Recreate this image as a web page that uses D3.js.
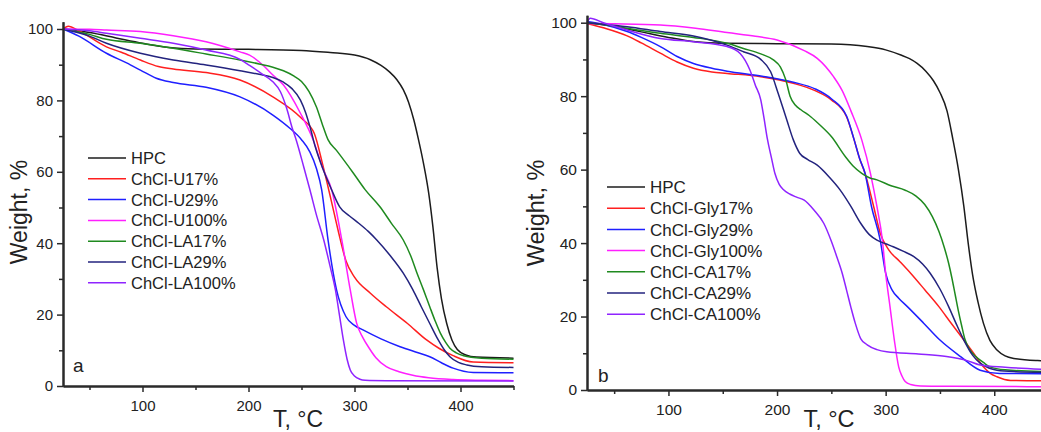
<!DOCTYPE html>
<html>
<head>
<meta charset="utf-8">
<script src="https://cdn.jsdelivr.net/npm/d3@7"></script>
<style>
  html, body { margin: 0; padding: 0; background: #fff; }
  svg { display: block; font-family: Arial, "Liberation Sans", sans-serif; }
</style>
</head>
<body>
<svg id="chart" width="1041" height="432"></svg>
<script>
// ---- Data: TGA curves, [T in °C, weight %] ----

// panel a
const hpcA    = [[25,100],[50,99],[75,97.5],[100,96],[125,94.8],[150,94.4],[200,94.3],[250,94.0],[277,93.4],[300,92.7],[315,91.4],[325,89.8],[333,88],[340,85.8],[346,83],[351,79.5],[356,74.5],[360,69.5],[365,62.5],[370,54],[374,44.5],[378,33],[382,24.5],[387,17.5],[392,12.8],[397,10.2],[405,8.7],[415,8.1],[450,7.8]];
const u17A    = [[25,100],[30,100.8],[40,99.5],[66,95],[80,93.5],[98,91.3],[115,89.5],[129,88.8],[160,87.8],[192,85.7],[223,81],[250,75],[262,70.8],[270,62],[278,52],[285,43],[292,35],[300,30.5],[315,26],[330,22.2],[350,17.5],[368,12.9],[380,10.5],[393,8.5],[412,6.7],[450,6.5]];
const u29A    = [[25,100],[40,98],[66,93.2],[85,90.5],[98,88.5],[113,86.2],[129,85],[160,83.7],[192,81],[223,75.9],[239,72.2],[250,69],[258,65.5],[264,61],[269,55],[275,41],[283,27],[292,19.4],[300,17],[308,15.7],[325,13.2],[343,11],[360,9.3],[371,8.2],[382,6.5],[393,5],[412,3.8],[450,3.7]];
const u100A   = [[25,100],[50,99.9],[66,99.7],[98,99.3],[129,98.1],[160,96.4],[192,93.6],[201,92.7],[215,89.5],[223,87.1],[233,84.3],[249,76.4],[261,68.9],[270,61],[278.5,54.9],[288,40.9],[296,26.9],[302,17.6],[308,13.5],[313,11],[320,8],[330,5.4],[342,4],[355,3],[370,2.3],[393,1.8],[420,1.6],[450,1.5]];
const la17A   = [[25,100],[50,98.5],[66,97.1],[98,96],[129,94.6],[160,93],[192,91.3],[210,90.2],[223,89.3],[233,88.3],[243,86.8],[250,85.3],[257,82.5],[264,78.2],[270,73],[275,69],[283,66],[299,59.6],[310,55],[324,50.2],[335,45.5],[346,40.9],[353,36.5],[359,31.6],[365,27],[371,22.2],[376,18.3],[381,14.8],[386,12.2],[390,10.6],[396,9.3],[403,8.5],[420,7.8],[450,7.5]];
const la29A   = [[25,100],[50,98],[66,96],[98,93.2],[129,91.3],[160,89.9],[192,88.3],[210,87.3],[223,86.4],[233,85.1],[241,83.3],[249,80.1],[254,76.5],[258,72.6],[263,67],[270,61],[278.5,54.9],[286,50.2],[295,47.7],[304,45.6],[313,43.3],[321,40.9],[334,36.4],[346,31.6],[355,27],[363,22.2],[371,17.5],[379,12.9],[385,10],[390,8.2],[398,6.6],[406,5.9],[420,5.4],[450,5.2]];
const la100A  = [[25,100],[50,99.5],[66,98.8],[98,97.4],[129,96],[160,94.1],[192,91.5],[201,89.8],[212,87.6],[223,85.2],[230,82.5],[236,77.8],[241,72.5],[245,68.9],[252,61.5],[258,54.9],[264,48],[271,40.9],[277,33.5],[282,26.9],[286,19.5],[289.5,12.9],[293,7.5],[296,4.5],[300,2.8],[305,1.9],[310,1.6],[330,1.5],[450,1.4]];

// panel b
const hpcB    = [[25,100],[50,99],[75,97.5],[100,96],[125,94.8],[150,94.4],[200,94.3],[250,94.2],[283,93.5],[300,92.6],[314,91.2],[322,90.2],[329,88.9],[337,86.8],[344,84.2],[350,81],[356.5,76],[362,68.1],[367,60],[372,50],[376,40],[380,31.5],[385,24],[390,18.2],[396,13.5],[402.5,10.9],[410,9.3],[418,8.6],[440,8.0],[450,7.9]];
const gly17B  = [[25,99.8],[40,98.6],[62,96.4],[75,94.5],[92.5,91.7],[108,89.3],[123,87.6],[140,86.6],[154,86.2],[185,85.3],[215,83.5],[235,81.5],[250,79],[264,74.4],[271,68.1],[276,63],[281,59],[289,49.9],[295,42.7],[303,38.1],[313,35],[323,31.8],[336,27.3],[349,22.7],[360,18.3],[372,13.6],[381,10],[390,6.3],[396,4.6],[402.5,3.6],[415,2.6],[450,2.5]];
const gly29B  = [[25,100.3],[40,99.5],[62,97.6],[75,96],[92.5,93.5],[108,90.8],[123,88.9],[140,87.6],[154,86.8],[185,85.5],[215,83.8],[235,82],[250,79.3],[264,74.6],[271,68.1],[276,63],[281,59],[287,49.9],[295,40.8],[300,31.8],[306,27.2],[312,25],[320,22.7],[335,18.2],[350,13.6],[369,9.1],[387,5.4],[405,4.5],[450,4.4]];
const gly100B = [[25,99.8],[50,99.7],[92.5,99.4],[125,98.5],[154,97.3],[180,96.3],[200,95.3],[225,92.4],[237,90.3],[252,85.3],[260,81.5],[268,76],[278,68.1],[286,59],[292,49.9],[297,40.8],[300,31.8],[304,22.7],[308,13.6],[312,6.3],[315,3.8],[318,2.3],[323,1.5],[332,1.1],[360,1.0],[450,0.9]];
const ca17B   = [[25,100],[40,99.5],[61.8,98.5],[92.5,97.1],[123,96],[154,94.4],[169,93],[185,91.5],[197,89.8],[203,88],[208,84.5],[212,80],[217,77.5],[222,76.3],[231,74.4],[240,72],[250,69],[263,63.5],[270,61],[278,59],[285,57.8],[292,57.2],[305,55.6],[318,54.4],[328,52.8],[336,50.5],[343,47.2],[349,43.2],[354,38.8],[358,34.5],[361,30.5],[364,26],[367,21.5],[370,17.5],[373,13.8],[377,11.2],[383,9.1],[390,7.5],[396,6.3],[410,5.5],[450,5.0]];
const ca29B   = [[25,100],[40,99.6],[62,98.9],[92.5,97.6],[123,96.4],[154,93.9],[169,92.1],[185,90],[194,86.7],[201,80.8],[209,73.5],[215,68.1],[221,64.4],[228,62.8],[237,61.2],[248,58],[258,54.5],[268,50],[277,45.4],[285,42.3],[292,40.8],[300,39.8],[307,39],[316,37.8],[326,36.3],[334,34.3],[341,31.8],[350,27.5],[358,22.7],[365,18],[372,13.6],[380,9.5],[387,7.3],[395,6],[402.5,5.4],[420,5],[450,4.8]];
const ca100B  = [[25,100],[28,101.2],[40,100],[62,98],[92.5,95.7],[123,94.8],[154,93.5],[166,91.6],[175,87.1],[180,83],[185,79],[188,74],[191,68.5],[195,63],[198,59],[202,56],[206,54.5],[212,53.3],[218,52.5],[225,51.7],[234,49],[243,45.4],[250,40.5],[255,36.3],[260,31.8],[264,27.2],[268,22.5],[272,18.2],[277,14],[283,12.3],[292,11],[301,10.4],[330,9.8],[356,9.1],[375,8],[387,6.8],[410,6.2],[450,5.6]];

const labelsA = ["HPC", "ChCl-U17%", "ChCl-U29%", "ChCl-U100%", "ChCl-LA17%", "ChCl-LA29%", "ChCl-LA100%"];
const labelsB = ["HPC", "ChCl-Gly17%", "ChCl-Gly29%", "ChCl-Gly100%", "ChCl-CA17%", "ChCl-CA29%", "ChCl-CA100%"];
const seriesA = [hpcA, u17A, u29A, u100A, la17A, la29A, la100A];
const seriesB = [hpcB, gly17B, gly29B, gly100B, ca17B, ca29B, ca100B];

const xMajor = [100, 200, 300, 400];
const xMinor = [50, 150, 250, 350, 450];
const yMajor = [0, 20, 40, 60, 80, 100];
const yMinor = [10, 30, 50, 70, 90];

const COLORS = ["#1c1c1c", "#ff1f1f", "#1f1fff", "#ff1fff", "#1f8a1f", "#23237e", "#8f24ff"];

const svg = d3.select("#chart");

function drawPanel(cfg) {
  const g = svg.append("g");

  const x = d3.scaleLinear().domain([25, 450]).range([cfg.x0, cfg.x0 + 425 * cfg.kx]);
  const y = d3.scaleLinear().domain([0, 102]).range([cfg.y0, cfg.y0 - 102 * cfg.ky]);

  // ---- curves ----
  const line = d3.line()
    .x(d => x(d[0]))
    .y(d => y(d[1]))
    .curve(d3.curveMonotoneX);

  g.selectAll(".curve")
    .data(cfg.series)
    .join("path")
    .attr("class", "curve")
    .attr("fill", "none")
    .attr("stroke", (_, i) => COLORS[i])
    .attr("stroke-width", 1.5)
    .attr("d", line);

  // ---- axes: major + minor ticks, outward ----
  const styleAxis = sel => {
    sel.select(".domain").attr("stroke", "#2a2a2a").attr("stroke-width", 2);
    sel.selectAll(".tick line").attr("stroke", "#2a2a2a").attr("stroke-width", 1.5);
    sel.selectAll(".tick text").attr("font-size", cfg.tickFont).attr("fill", "#222")
      .attr("font-family", "Arial, 'Liberation Sans', sans-serif");
  };

  g.append("g")
    .attr("transform", `translate(0,${cfg.y0})`)
    .call(d3.axisBottom(x).tickValues(xMinor).tickSize(4).tickSizeOuter(0).tickFormat(""))
    .call(styleAxis);
  g.append("g")
    .attr("transform", `translate(0,${cfg.y0})`)
    .call(d3.axisBottom(x).tickValues(xMajor).tickSize(6).tickSizeOuter(0).tickPadding(8))
    .call(styleAxis);

  g.append("g")
    .attr("transform", `translate(${cfg.x0},0)`)
    .call(d3.axisLeft(y).tickValues(yMinor).tickSize(4).tickSizeOuter(0).tickFormat(""))
    .call(styleAxis);
  g.append("g")
    .attr("transform", `translate(${cfg.x0},0)`)
    .call(d3.axisLeft(y).tickValues(yMajor).tickSize(6).tickSizeOuter(0).tickPadding(4))
    .call(styleAxis);

  // ---- axis titles ----
  g.append("text")
    .attr("x", cfg.xTitle[0]).attr("y", cfg.xTitle[1])
    .attr("text-anchor", "middle")
    .attr("font-size", cfg.titleFont).attr("fill", "#222")
    .text("T, °C");

  g.append("text")
    .attr("transform", `translate(${cfg.yTitle[0]},${cfg.yTitle[1]}) rotate(-90)`)
    .attr("text-anchor", "middle")
    .attr("font-size", cfg.titleFont).attr("fill", "#222")
    .text("Weight, %");

  // ---- panel letter ----
  g.append("text")
    .attr("x", cfg.letterPos[0]).attr("y", cfg.letterPos[1])
    .attr("font-size", 19).attr("fill", "#222")
    .text(cfg.letter);

  // ---- legend ----
  const leg = g.append("g").attr("transform", `translate(${cfg.legend[0]},${cfg.legend[1]})`);
  const rows = leg.selectAll("g")
    .data(cfg.labels)
    .join("g")
    .attr("transform", (_, i) => `translate(0,${i * cfg.legend[2]})`);
  rows.append("line")
    .attr("x1", 0).attr("x2", 38)
    .attr("stroke", (_, i) => COLORS[i])
    .attr("stroke-width", 1.5);
  rows.append("text")
    .attr("x", 43)
    .attr("dy", "0.36em")
    .attr("font-size", cfg.legendFont).attr("fill", "#222")
    .text(d => d);
}

drawPanel({
  series: seriesA, labels: labelsA, letter: "a",
  x0: 63, kx: 1.06, y0: 386, ky: 3.57,
  tickFont: 15, titleFont: 23, legendFont: 16.5,
  xTitle: [298, 427], yTitle: [27, 212],
  letterPos: [73, 372],
  legend: [88, 158, 20.8]
});

drawPanel({
  series: seriesB, labels: labelsB, letter: "b",
  x0: 587, kx: 1.086, y0: 390, ky: 3.673,
  tickFont: 15.5, titleFont: 23.5, legendFont: 17,
  xTitle: [829, 427], yTitle: [544, 213],
  letterPos: [598, 382],
  legend: [607, 187, 21.2]
});
</script>
</body>
</html>
